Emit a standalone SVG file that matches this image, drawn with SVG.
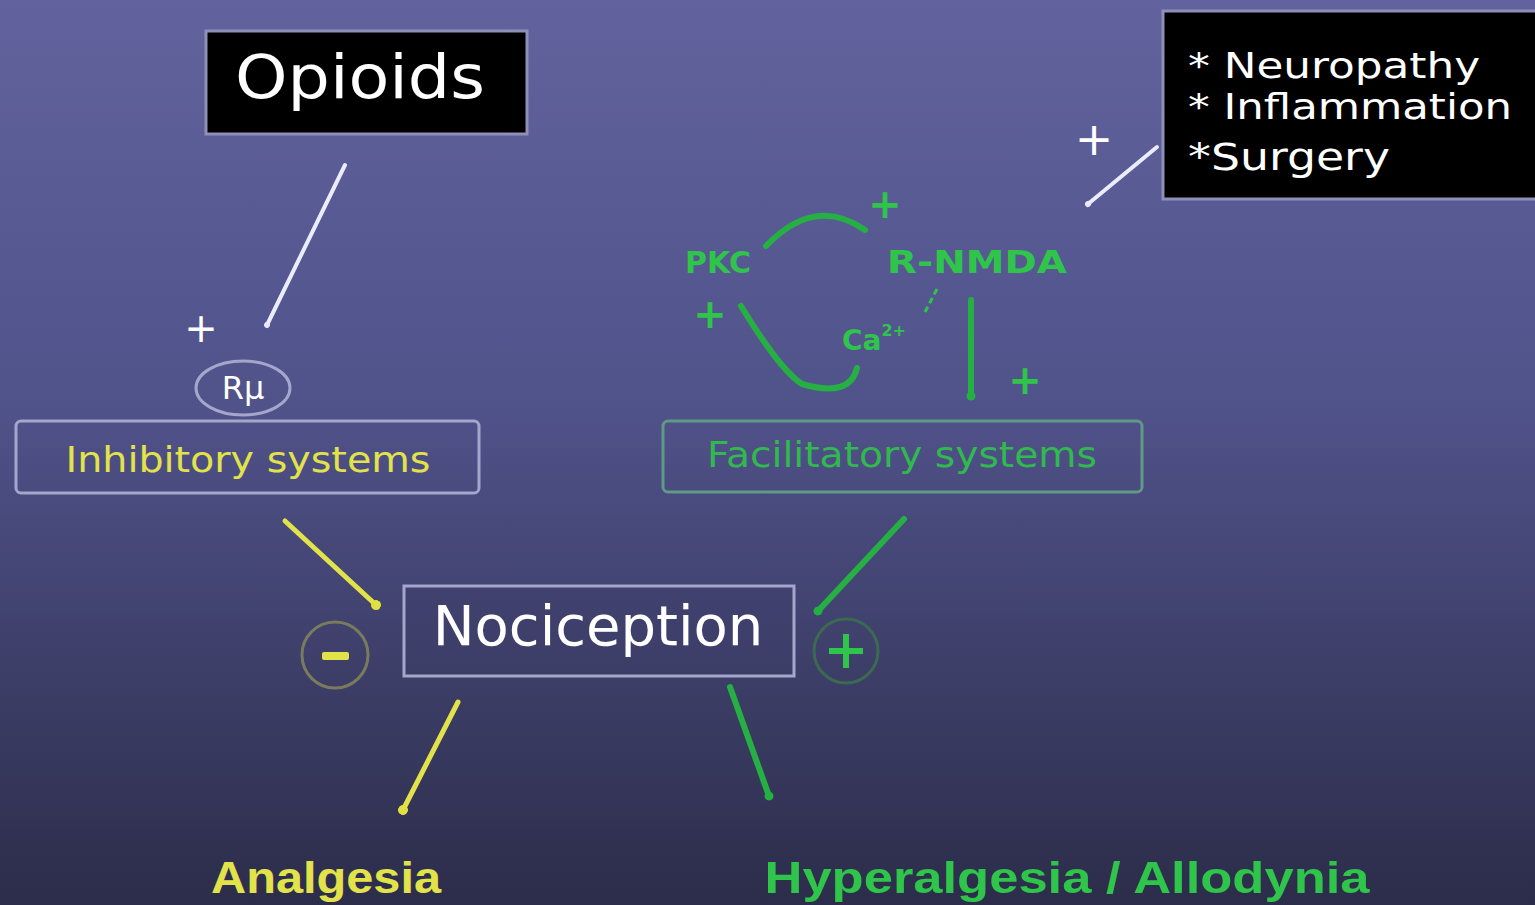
<svg xmlns="http://www.w3.org/2000/svg" width="1535" height="905" viewBox="0 0 1535 905">
<defs>
<linearGradient id="bg" x1="0" y1="0" x2="0" y2="1">
<stop offset="0" stop-color="#62639e"/>
<stop offset="0.45" stop-color="#50528a"/>
<stop offset="1" stop-color="#2c2d4a"/>
</linearGradient>
<marker id="aw" markerWidth="6" markerHeight="6" refX="3" refY="3" orient="auto" markerUnits="userSpaceOnUse"><circle cx="3" cy="3" r="3" fill="#e8e8ff"/></marker>
<marker id="ay" markerWidth="10" markerHeight="10" refX="5" refY="5" orient="auto" markerUnits="userSpaceOnUse"><circle cx="5" cy="5" r="5" fill="#e0e040"/></marker>
<marker id="ag" markerWidth="10" markerHeight="10" refX="5" refY="5" orient="auto" markerUnits="userSpaceOnUse"><circle cx="5" cy="5" r="4.5" fill="#22b040"/></marker>
<style>
.t{font-family:"DejaVu Sans",sans-serif}
.w{fill:#ffffff}
.y{fill:#e2e24a}
.g{fill:#2fc44a}
.box{fill:none;stroke:#a4a6cc;stroke-width:3}
.blk{fill:#000000;stroke:#8e90b8;stroke-width:3}
.lw{stroke:#ececff;stroke-width:4;fill:none;stroke-linecap:round}
.ly{stroke:#e2e24a;stroke-width:5;fill:none;stroke-linecap:round}
.lg{stroke:#26b043;stroke-width:6;fill:none;stroke-linecap:round}
.b{font-family:"Liberation Sans",sans-serif;font-weight:bold}
</style>
</defs>
<rect width="1535" height="905" fill="url(#bg)"/>

<g id="connectors">
<line class="lw" x1="345" y1="165" x2="267" y2="325" marker-end="url(#aw)"/>
<line class="lw" x1="1157" y1="147" x2="1088" y2="204" marker-end="url(#aw)"/>
<line class="ly" x1="285" y1="521" x2="376" y2="605" marker-end="url(#ay)"/>
<line class="lg" x1="904" y1="519" x2="818" y2="611" marker-end="url(#ag)"/>
<line class="ly" x1="458" y1="702" x2="403" y2="810" marker-end="url(#ay)"/>
<line class="lg" x1="730" y1="687" x2="769" y2="796" marker-end="url(#ag)"/>
<line class="lg" x1="971" y1="300" x2="971" y2="396" marker-end="url(#ag)"/>
<path class="lg" d="M766 246 Q815 195 865 230"/>
<path class="lg" d="M741 306 Q780 370 802 384 Q850 398 857 368"/>
<path d="M937 289 L925 312" stroke="#2fc44a" stroke-width="3" fill="none" stroke-dasharray="6 4"/>
</g>

<g id="opioids">
<rect class="blk" x="206" y="31" width="321" height="103"/>
<text class="t w" x="360" y="98" font-size="60" text-anchor="middle" textLength="250" lengthAdjust="spacingAndGlyphs">Opioids</text>
</g>

<g id="causes">
<rect class="blk" x="1163" y="11" width="380" height="188"/>
<text class="t w" x="1188" y="78" font-size="35" textLength="292" lengthAdjust="spacingAndGlyphs">* Neuropathy</text>
<text class="t w" x="1188" y="119" font-size="35" textLength="324" lengthAdjust="spacingAndGlyphs">* Inflammation</text>
<text class="t w" x="1188" y="170" font-size="38" textLength="202" lengthAdjust="spacingAndGlyphs">*Surgery</text>
</g>

<g id="plus-signs">
<text class="t w" x="201" y="342" font-size="40" text-anchor="middle">+</text>
<text class="t w" x="1094" y="155" font-size="46" text-anchor="middle">+</text>
<text class="t g" x="885" y="218" font-size="40" font-weight="bold" text-anchor="middle">+</text>
<text class="t g" x="710" y="328" font-size="40" font-weight="bold" text-anchor="middle">+</text>
<text class="t g" x="1025" y="394" font-size="40" font-weight="bold" text-anchor="middle">+</text>
</g>

<g id="rmu">
<ellipse cx="243" cy="388" rx="47" ry="27" fill="none" stroke="#a4a6cc" stroke-width="3"/>
<text class="t w" x="243" y="399" font-size="32" text-anchor="middle">Rμ</text>
</g>

<g id="inhibitory">
<rect class="box" x="16" y="421" width="463" height="72" rx="5"/>
<text class="t y" x="248" y="472" font-size="36" text-anchor="middle" textLength="365" lengthAdjust="spacingAndGlyphs">Inhibitory systems</text>
</g>

<g id="pkc">
<text class="t g" x="718" y="273" font-size="30" font-weight="bold" text-anchor="middle">PKC</text>
</g>
<g id="rnmda">
<text class="t g" x="977" y="273" font-size="32" font-weight="bold" text-anchor="middle" textLength="180" lengthAdjust="spacingAndGlyphs">R-NMDA</text>
</g>
<g id="ca">
<text class="t g" x="842" y="350" font-size="28" font-weight="bold">Ca<tspan font-size="16" dy="-14">2+</tspan></text>
</g>

<g id="facilitatory">
<rect x="663" y="421" width="479" height="71" rx="5" fill="none" stroke="#5f9a86" stroke-width="3"/>
<text class="t g" x="902" y="467" font-size="36" text-anchor="middle" textLength="390" lengthAdjust="spacingAndGlyphs" opacity="0.9">Facilitatory systems</text>
</g>

<g id="nociception">
<rect x="404" y="586" width="390" height="90" fill="#3c3d66" fill-opacity="0.35" stroke="#a4a6cc" stroke-width="3"/>
<text class="t w" x="598" y="645" font-size="56" text-anchor="middle">Nociception</text>
</g>

<g id="minus">
<circle cx="335" cy="655" r="33" fill="none" stroke="#7a7a5e" stroke-width="3"/>
<rect x="322" y="652" width="27" height="8" rx="2" fill="#e2e24a"/>
</g>

<g id="plus-circle">
<circle cx="846" cy="651" r="32" fill="none" stroke="#3a6a52" stroke-width="3"/>
<path d="M846 634 V668 M829 651 H863" stroke="#2fc44a" stroke-width="6"/>
</g>

<g id="analgesia">
<text class="b y" x="326" y="893" font-size="44" text-anchor="middle" textLength="230" lengthAdjust="spacingAndGlyphs">Analgesia</text>
</g>
<g id="hyperalgesia">
<text class="b g" x="1067" y="893" font-size="44" text-anchor="middle" textLength="605" lengthAdjust="spacingAndGlyphs">Hyperalgesia / Allodynia</text>
</g>
</svg>
